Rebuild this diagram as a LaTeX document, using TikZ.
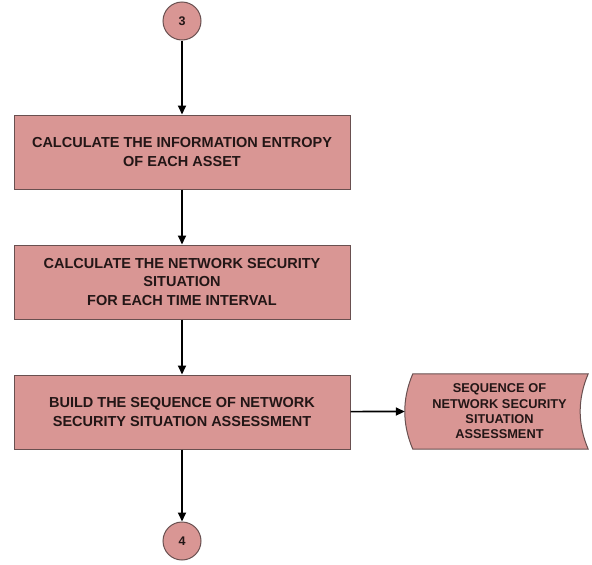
\documentclass[tikz,border=0pt]{standalone}
\usepackage{fontspec}
\setmainfont{Liberation Sans}
\usetikzlibrary{arrows.meta}
\definecolor{boxfill}{RGB}{217,150,148}
\definecolor{boxline}{RGB}{105,80,80}
\definecolor{txt}{RGB}{35,22,22}
\begin{document}
\begin{tikzpicture}[x=1pt,y=1pt,
  proc/.style={draw=boxline, fill=boxfill, line width=1pt, minimum width=336pt, minimum height=74pt,
    align=center, font=\fontsize{14.5}{18.5}\selectfont\bfseries, text=txt, inner sep=0pt},
  conn/.style={circle, draw=boxline, fill=boxfill, minimum size=38pt, inner sep=0pt,
    font=\fontsize{12.5}{14}\selectfont\bfseries, text=txt, line width=1pt},
  docnode/.style={minimum width=183pt, minimum height=75pt, inner sep=0pt, align=center,
    font=\fontsize{12.8}{15.3}\selectfont\bfseries, text=txt},
  docshape/.style={draw=boxline, fill=boxfill, line width=1pt},
  arr/.style={line width=1.7pt, -{Triangle[length=9pt,width=8pt]}}]
\useasboundingbox (0,0) rectangle (592,-565);
\node[conn] (c3) at (182,-21) {3};
\node[proc, font=\fontsize{14.5}{19.5}\selectfont\bfseries] (b1) at (182,-152) {CALCULATE THE INFORMATION ENTROPY\\OF EACH ASSET};
\node[proc] (b2) at (182,-282) {CALCULATE THE NETWORK SECURITY\\SITUATION\\FOR EACH TIME INTERVAL};
\node[proc] (b3) at (182,-412) {BUILD THE SEQUENCE OF NETWORK\\SECURITY SITUATION ASSESSMENT};
\node[conn] (c4) at (182,-541) {4};
\node[docnode] (doc) at (496.5,-411.5) {};
\draw[docshape] ([xshift=8pt]doc.north west) -- (doc.north east)
  .. controls +(-10.7,-25) and +(-10.7,25) .. (doc.south east)
  -- ([xshift=8pt]doc.south west)
  .. controls +(-10.7,25) and +(-10.7,-25) .. ([xshift=8pt]doc.north west) -- cycle;
\node[docnode] at ([xshift=3pt]doc.center) {SEQUENCE OF\\NETWORK SECURITY\\SITUATION\\ASSESSMENT};
\draw[arr] (c3) -- (b1);
\draw[arr] (b1) -- (b2);
\draw[arr] (b2) -- (b3);
\draw[arr] (b3) -- (c4);
\draw[arr] (b3) -- (doc.west);
\end{tikzpicture}
\end{document}
